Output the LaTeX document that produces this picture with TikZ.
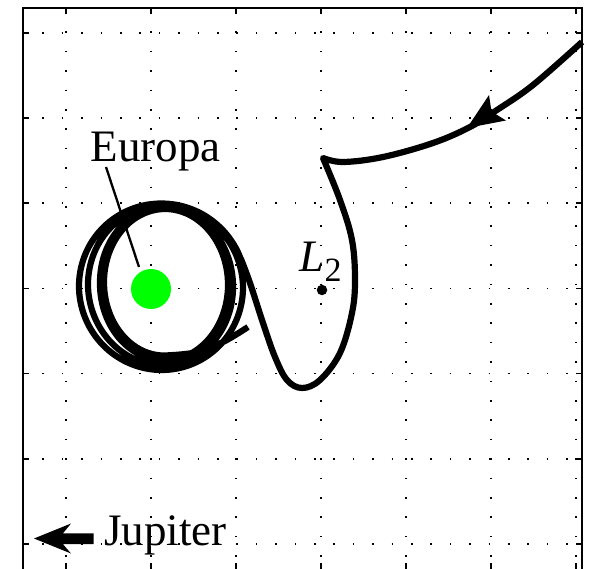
\documentclass[tikz,border=0pt]{standalone}
\usepackage{fontspec}
\setmainfont{Liberation Serif}
\definecolor{eurgreen}{RGB}{0,255,0}
\begin{document}
\begin{tikzpicture}[x=1pt,y=-1pt,
  declare function={
    RR(\t)=(\t<360)*(246-3*(\t-20)/340)+and(\t>=360,\t<720)*(243-10*(\t-360)/360)+(\t>=720)*(233-5*(\t-720)/360);
    LL(\t)=(\t<540)*(79+9*(\t-180)/360)+and(\t>=540,\t<900)*(88+12*(\t-540)/360)+(\t>=900)*(100+4*(\t-900)/360);
    TT(\t)=203.5+1.83*(\t-90)/360;
    BB(\t)=370-4.83*(\t-270)/360;
  },
  gridv/.style={line width=1.6pt, dash pattern=on 1.6pt off 17.8pt, dash phase=15.4pt},
  gridh/.style={line width=1.6pt, dash pattern=on 1.6pt off 17.8pt},
  frameline/.style={line width=2.3pt},
  tickline/.style={line width=1.7pt},
  traj/.style={line width=6.2pt, line join=round},
  lbl/.style={font=\fontsize{45}{54}\selectfont, inner sep=0pt, anchor=base west},
  leader/.style={line width=2.3pt},
  headfill/.style={fill=black}]
\useasboundingbox (0,0) rectangle (589,569);
% grid
\foreach \gx in {66,151,236,321,406,491,576}{
  \draw[gridv] (\gx,8) -- (\gx,569);
  \draw[tickline] (\gx,8) -- (\gx,14);
  \draw[tickline] (\gx,569) -- (\gx,563);
}
\foreach \gy in {33,118.2,203.3,288.5,373.6,458.8,543.9}{
  \draw[gridh] (23,\gy) -- (582,\gy);
  \draw[tickline] (23,\gy) -- (29,\gy);
  \draw[tickline] (582,\gy) -- (576,\gy);
}
% frame
\draw[frameline] (23,569) -- (23,8) -- (582,8) -- (582,569);
% trajectory
\draw[traj] plot[smooth, tension=0.6] coordinates {(582,42) (533,85) (497,110) (470,127) (433,143) (383,157) (343,162) (323,158)}
  -- plot[smooth, tension=0.6] coordinates {(323,158) (340,200) (352,240) (355,280) (352,313) (340,353) (320,380) (302,388) (287,380) (275,357) (263,323) (250,283) (241,259)}
  -- plot[domain=20:1350, samples=333, smooth, variable=\t]
     ({RR(\t)*(1+cos(\t))/2 + LL(\t)*(1-cos(\t))/2},
      {TT(\t)*(1+sin(\t))/2 + BB(\t)*(1-sin(\t))/2})
  -- plot[smooth, tension=0.6] coordinates {(164.6,355.5) (195,352.5) (223,342) (248,327)};
% arrowhead on trajectory
\coordinate (ahTip) at (467,128);
\coordinate (ahBarbA) at (489,95);
\coordinate (ahNotch) at (491.5,111.5);
\coordinate (ahBarbB) at (506,120.5);
\fill[headfill] (ahTip) -- (ahBarbA) -- (ahNotch) -- (ahBarbB) -- cycle;
% Europa
\node[circle, fill=eurgreen, minimum size=40pt, inner sep=0pt] (europa) at (151,289) {};
\node[lbl] (europaLabel) at (90.5,162) {Europa};
\coordinate (leadA) at (106,167);
\coordinate (leadB) at (139,267);
\draw[leader] (leadA) -- (leadB);
% L2
\node[circle, fill=black, minimum size=10.5pt, inner sep=0pt] (l2pt) at (322,290) {};
\node[lbl] (l2Label) at (299.5,272) {\itshape L\upshape\raisebox{-10pt}{\fontsize{34}{40}\selectfont 2}};
% Jupiter arrow
\coordinate (jTip) at (34,538.5);
\coordinate (jBarbA) at (71,523.5);
\coordinate (jNotchA) at (63,533.3);
\coordinate (jEndA) at (93.5,533.3);
\coordinate (jEndB) at (93.5,544.2);
\coordinate (jNotchB) at (63,544.2);
\coordinate (jBarbB) at (71,553.5);
\fill[headfill] (jTip) -- (jBarbA) -- (jNotchA) -- (jEndA) -- (jEndB) -- (jNotchB) -- (jBarbB) -- cycle;
\node[lbl] (jupiterLabel) at (104,545) {Jupiter};
\end{tikzpicture}
\end{document}
